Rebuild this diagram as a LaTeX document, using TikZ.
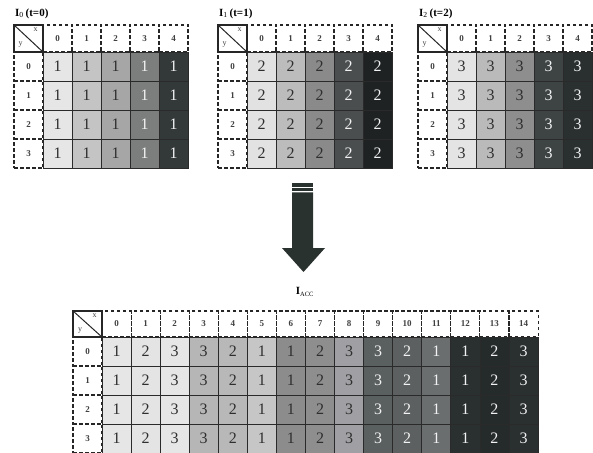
\documentclass[tikz,border=0pt]{standalone}
\usepackage{fontspec}
\setmainfont{Liberation Serif}
\definecolor{ga0}{HTML}{E6E6E6}
\definecolor{ga1}{HTML}{C4C4C4}
\definecolor{ga2}{HTML}{A6A6A6}
\definecolor{ga3}{HTML}{7C7E7E}
\definecolor{ga4}{HTML}{333838}
\definecolor{gb0}{HTML}{E2E2E2}
\definecolor{gb1}{HTML}{BCBCBC}
\definecolor{gb2}{HTML}{8A8A8A}
\definecolor{gb3}{HTML}{4A4E4E}
\definecolor{gb4}{HTML}{1E2222}
\definecolor{gc0}{HTML}{E4E4E4}
\definecolor{gc1}{HTML}{BABABA}
\definecolor{gc2}{HTML}{8E8E8E}
\definecolor{gc3}{HTML}{3E4444}
\definecolor{gc4}{HTML}{2A3030}
\definecolor{b0}{HTML}{E6E6E6}
\definecolor{b1}{HTML}{E4E4E4}
\definecolor{b2}{HTML}{E6E6E6}
\definecolor{b3}{HTML}{B6B6B6}
\definecolor{b4}{HTML}{B8B8B8}
\definecolor{b5}{HTML}{C6C6C6}
\definecolor{b6}{HTML}{8C8C8C}
\definecolor{b7}{HTML}{8E8E8E}
\definecolor{b8}{HTML}{A0A0A4}
\definecolor{b9}{HTML}{5A5F5F}
\definecolor{b10}{HTML}{5C6060}
\definecolor{b11}{HTML}{6A6E6E}
\definecolor{b12}{HTML}{2A3030}
\definecolor{b13}{HTML}{252A2A}
\definecolor{b14}{HTML}{2A2F2F}
\definecolor{tdark}{HTML}{2E2E2E}
\definecolor{tlight}{HTML}{F2F2F2}
\definecolor{cellline}{HTML}{2A2A2A}
\definecolor{arrowc}{HTML}{29322E}
\tikzset{
  hdr/.style={draw=black!85, line width=1.1pt, dash pattern=on 3.5pt off 2.5pt,
    minimum width=29pt, minimum height=27pt, inner sep=0pt,
    font=\bfseries\fontsize{9}{9}\selectfont, text=black!75},
  bhdr/.style={hdr, minimum width=29.07pt, minimum height=26pt},
  rowhdr/.style={hdr, minimum height=29pt},
  cellbox/.style={draw=cellline, line width=0.8pt, minimum width=29pt,
    minimum height=29pt, inner sep=0pt, font=\fontsize{16}{16}\selectfont},
  bcell/.style={cellbox, minimum width=29.07pt},
  corner/.style={draw=black!85, line width=1.1pt, minimum width=29pt,
    minimum height=27pt, inner sep=0pt},
  cornertxt/.style={font=\fontsize{8}{8}\selectfont, inner sep=0pt, text=black!75},
  title/.style={anchor=west, inner sep=0pt, font=\fontsize{11}{11}\selectfont}
}
\begin{document}
\begin{tikzpicture}[x=1pt,y=-1pt]
\path[use as bounding box] (0,0) rectangle (593,452);
\clip (0,0) rectangle (593,452);
\fill[white] (0,0) rectangle (593,452);

% ---------- top grids ----------
\foreach \g/\xc/\t/\gc in {0/14/1/ga, 1/218/2/gb, 2/418/3/gc} {
  \node[title] (title\g) at (\xc+1,13.5) {\textbf{I}\textsubscript{\g}\textbf{\,(t=\g)}};
  % row headers
  \foreach \r in {0,...,3} {
    \node[rowhdr] (g\g r\r) at (\xc+14.5,{52+29*\r+14.5}) {\r};
  }
  % column headers and cells
  \foreach \tc [count=\i from 0] in {tdark,tdark,tdark,tlight,tlight} {
    \node[hdr] (g\g h\i) at ({\xc+29+29*\i+14.5},38.5) {\i};
    \foreach \r in {0,...,3} {
      \node[cellbox, fill=\gc\i, text=\tc] (g\g c\i r\r) at ({\xc+29+29*\i+14.5},{52+29*\r+14.5}) {\t};
    }
  }
  % corner
  \node[corner, fill=white] (g\g k) at (\xc+14.5,38.5) {};
  \draw[line width=1pt, black!85] (g\g k.north west) -- (g\g k.south east);
  \node[cornertxt] (g\g kx) at (\xc+21.5,30) {x};
  \node[cornertxt] (g\g ky) at (\xc+6.5,45) {y};
}

% ---------- arrow ----------
\fill[arrowc] (292,183) rectangle (313,186.6);
\fill[arrowc] (292,187.6) rectangle (313,191.4);
\fill[arrowc] (292,192.4) -- (313,192.4) -- (313,248) -- (325,248) -- (303.5,272)
  -- (282,248) -- (292,248) -- cycle;

% ---------- accumulated grid ----------
\node[inner sep=0pt, font=\fontsize{11}{11}\selectfont] (acc) at (305,292)
  {\textbf{I}\textsubscript{\fontsize{6.5}{6.5}\selectfont ACC}};
\foreach \r in {0,...,3} {
  \node[rowhdr] (br\r) at (87.5,{337+29*\r+14.5}) {\r};
}
\foreach \v/\tc [count=\i from 0] in
  {1/tdark,2/tdark,3/tdark,3/tdark,2/tdark,1/tdark,1/tdark,2/tdark,3/tdark,
   3/tlight,2/tlight,1/tlight,1/tlight,2/tlight,3/tlight} {
  \node[bhdr] (bh\i) at ({102+29.07*\i+14.535},324) {\i};
  \foreach \r in {0,...,3} {
    \node[bcell, fill=b\i, text=\tc] (bc\i r\r) at ({102+29.07*\i+14.535},{337+29*\r+14.5}) {\v};
  }
}
\node[corner, minimum height=26pt, fill=white] (bk) at (87.5,324) {};
\draw[line width=1pt, black!85] (bk.north west) -- (bk.south east);
\node[cornertxt] (bkx) at (94.5,316) {x};
\node[cornertxt] (bky) at (80,331) {y};
\end{tikzpicture}
\end{document}
